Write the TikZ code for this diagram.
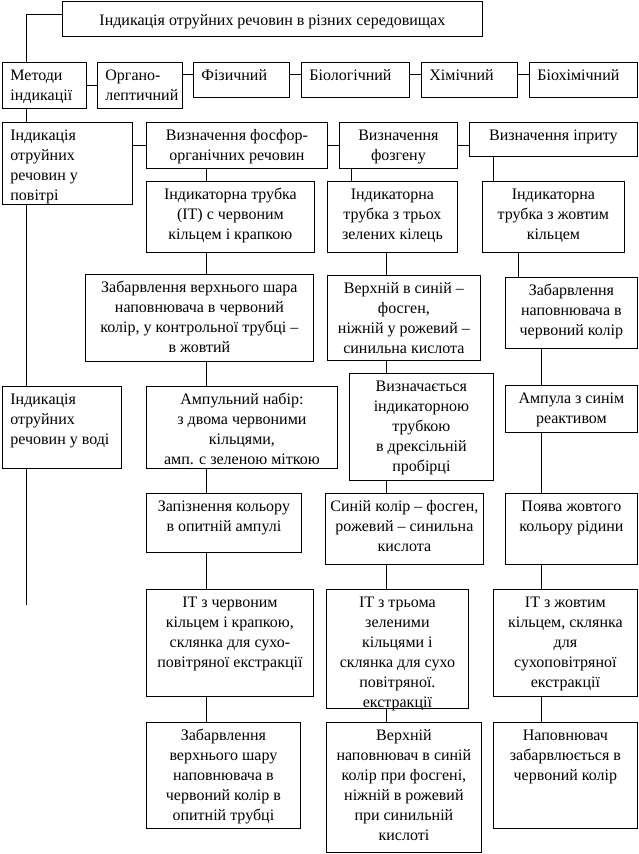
\documentclass[tikz,border=0pt]{standalone}
\usepackage{fontspec}
\setmainfont{Liberation Serif}
\usepackage{tikz}

\newcommand{\cbox}[4][4pt]{\parbox[c][#3][t]{#2}{\centering\vspace{#1}\strut #4}}
\newcommand{\lbox}[3]{\parbox[c][#2][t]{#1}{\raggedright\leftskip=8pt\vspace{4pt}\strut #3}}

\begin{document}
\begin{tikzpicture}[x=1pt, y=-1pt, line width=0.8pt, font=\fontsize{16}{20}\selectfont,
		blk/.style={draw, inner sep=0pt, anchor=north west}]
		\useasboundingbox (0,0) rectangle (638,854);
		\coordinate (sp) at (26,0);
		\coordinate (cA) at (206,0);
		\coordinate (cB0) at (351,0);
		\coordinate (cB) at (386,0);
		\coordinate (cC1) at (493,0);
		\coordinate (cC2) at (518,0);
		\coordinate (cC3) at (541,0);
		\coordinate (spend) at (26,605);
		
		\node[blk] (top) at (62,1) {\cbox[10pt]{420pt}{35pt}{Індикація отруйних речовин в різних середовищах}};
		
		\node[blk] (m) at (2,62) {\lbox{84pt}{46pt}{Методи\\індикації}};
		\node[blk] (org) at (97,62) {\lbox{85pt}{46pt}{Органо-\\лептичний}};
		\node[blk] (fiz) at (193,62) {\lbox{96pt}{35pt}{Фізичний}};
		\node[blk] (bio) at (301,62) {\lbox{108pt}{35pt}{Біологічний}};
		\node[blk] (him) at (421,62) {\lbox{96pt}{35pt}{Хімічний}};
		\node[blk] (bioh) at (529,62) {\lbox{108pt}{35pt}{Біохімічний}};
		
		\node[blk] (air) at (2,122) {\lbox{130pt}{82pt}{Індикація\\отруйних\\речовин у\\повітрі}};
		\node[blk] (fos) at (146,122) {\cbox{181pt}{46pt}{Визначення фосфор-\\органічних речовин}};
		\node[blk] (fzg) at (339,122) {\cbox{118pt}{46pt}{Визначення\\фозгену}};
		\node[blk] (ipr) at (469,122) {\cbox{168pt}{34pt}{Визначення іприту}};
		
		\node[blk] (it1) at (146,181) {\cbox{168pt}{71pt}{Індикаторна трубка\\(ІТ) с червоним\\кільцем і крапкою}};
		\node[blk] (it2) at (327,181) {\cbox{130pt}{71pt}{Індикаторна\\трубка з трьох\\зелених кілець}};
		\node[blk] (it3) at (482,181) {\cbox{142pt}{71pt}{Індикаторна\\трубка з жовтим\\кільцем}};
		
		\node[blk] (z1) at (85,274) {\cbox{228pt}{87pt}{Забарвлення верхнього шара\\наповнювача в червоний\\колір, у контрольної трубці –\\в жовтий}};
		\node[blk] (v2) at (327,275) {\cbox{153pt}{85pt}{Верхній в синій –\\фосген,\\ніжній у рожевий –\\синильна кислота}};
		\node[blk] (z3) at (505,277) {\cbox{132pt}{71pt}{Забарвлення\\наповнювача в\\червоний колір}};
		
		\node[blk] (water) at (2,386) {\lbox{119pt}{82pt}{Індикація\\отруйних\\речовин у воді}};
		\node[blk] (amp) at (146,386) {\cbox{191pt}{82pt}{Ампульний набір:\\з двома червоними\\кільцями,\\амп. с зеленою міткою}};
		\node[blk] (vyz) at (349,373) {\cbox{144pt}{107pt}{Визначається\\індикаторною\\трубкою\\в дрексільній\\пробірці}};
		\node[blk] (ampS) at (505,385) {\cbox{132pt}{47pt}{Ампула з синім\\реактивом}};
		
		\node[blk] (zap) at (146,493) {\cbox{155pt}{59pt}{Запізнення кольору\\в опитній ампулі}};
		\node[blk] (syn) at (325,493) {\cbox{158pt}{71pt}{Синій колір – фосген,\\рожевий – синильна\\кислота}};
		\node[blk] (pov) at (505,493) {\cbox{132pt}{71pt}{Поява жовтого\\кольору рідини}};
		
		\node[blk] (r7a) at (146,589) {\cbox{167pt}{107pt}{ІТ з червоним\\кільцем і крапкою,\\склянка для сухо-\\повітряної екстракції}};
		\node[blk] (r7b) at (326,589) {\cbox{142pt}{119pt}{ІТ з трьома\\зеленими\\кільцями і\\склянка для сухо\\повітряної.\\екстракції}};
		\node[blk] (r7c) at (493,589) {\cbox{144pt}{107pt}{ІТ з жовтим\\кільцем, склянка\\для\\сухоповітряної\\екстракції}};
		
		\node[blk] (r8a) at (146,722) {\cbox{154pt}{106pt}{Забарвлення\\верхнього шару\\наповнювача в\\червоний колір в\\опитній трубці}};
		\node[blk] (r8b) at (326,722) {\cbox{155pt}{130pt}{Верхній\\наповнювач в синій\\колір при фосгені,\\ніжній в рожевий\\при синильній\\кислоті}};
		\node[blk] (r8c) at (493,722) {\cbox{144pt}{106pt}{Наповнювач\\забарвлюється в\\червоний колір}};
		
		\draw ([yshift=5pt]top.west) -| (m.north -| sp);
		\draw (m.south -| sp) -- (air.north -| sp);
		\draw (air.south -| sp) -- (water.north -| sp);
		\draw (water.south -| sp) -- (spend);
		
		\draw (m.east) -- (org.west);
		\draw ([yshift=6pt]fiz.west -| org.east) -- ([yshift=6pt]fiz.west);
		\draw ([yshift=6pt]fiz.east) -- ([yshift=6pt]bio.west);
		\draw ([yshift=6pt]bio.east) -- ([yshift=6pt]him.west);
		\draw ([yshift=6pt]him.east) -- ([yshift=6pt]bioh.west);
		
		\draw (fos.west -| air.east) -- (fos.west);
		\draw (fos.east) -- (fzg.west);
		\draw (fzg.east) -- (fzg.east -| ipr.west);
		
		\draw (fos.south -| cA) -- (it1.north -| cA);
		\draw (it1.south -| cA) -- (z1.north -| cA);
		\draw (z1.south -| cA) -- (amp.north -| cA);
		\draw (amp.south -| cA) -- (zap.north -| cA);
		\draw (zap.south -| cA) -- (r7a.north -| cA);
		\draw (r7a.south -| cA) -- (r8a.north -| cA);
		
		\draw (fzg.south -| cB0) -- (it2.north -| cB0);
		\draw (it2.south -| cB) -- (v2.north -| cB);
		\draw (v2.south -| cB) -- (vyz.north -| cB);
		\draw (vyz.south -| cB) -- (syn.north -| cB);
		\draw (syn.south -| cB) -- (r7b.north -| cB);
		\draw (r7b.south -| cB) -- (r8b.north -| cB);
		
		\draw (ipr.south -| cC1) -- (it3.north -| cC1);
		\draw (it3.south -| cC2) -- (z3.north -| cC2);
		\draw (z3.south -| cC3) -- (ampS.north -| cC3);
		\draw (ampS.south -| cC3) -- (pov.north -| cC3);
		\draw (pov.south -| cC3) -- (r7c.north -| cC3);
		\draw (r7c.south -| cC3) -- (r8c.north -| cC3);
\end{tikzpicture}
\end{document}
